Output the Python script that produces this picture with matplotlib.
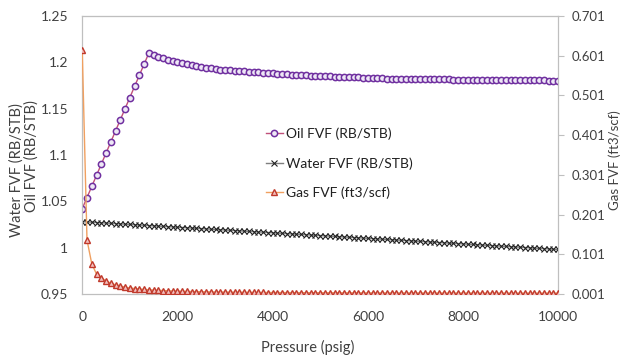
import numpy as np
import matplotlib
matplotlib.use("Agg")
import matplotlib.pyplot as plt

plt.rcParams['font.family'] = ['Lato', 'DejaVu Sans']

# ── Data (100 psi steps) ──
pressure = np.arange(0, 10001, 100)

oil_fvf = [
    1.042, 1.054, 1.066, 1.078, 1.090, 1.102, 1.114, 1.126, 1.138, 1.150,
    1.162, 1.174, 1.186, 1.198, 1.210, 1.208, 1.206, 1.2045, 1.203, 1.2015,
    1.2000, 1.1990, 1.1980, 1.1970, 1.1960, 1.1950, 1.1943, 1.1936, 1.1929, 1.1922,
    1.1915, 1.1912, 1.1908, 1.1905, 1.1901, 1.1898, 1.1894, 1.1891, 1.1888, 1.1884,
    1.1881, 1.1877, 1.1874, 1.1870, 1.1867, 1.1864, 1.1860, 1.1858, 1.1856, 1.1854,
    1.1852, 1.1850, 1.1848, 1.1846, 1.1845, 1.1843, 1.1841, 1.1839, 1.1837, 1.1835,
    1.1833, 1.1831, 1.1829, 1.1827, 1.1825, 1.1823, 1.1822, 1.1820, 1.1819, 1.1819,
    1.1818, 1.1818, 1.1817, 1.1817, 1.1816, 1.1816, 1.1815, 1.1815, 1.1814, 1.1814,
    1.1813, 1.1813, 1.1812, 1.1812, 1.1811, 1.1811, 1.1810, 1.1810, 1.1809, 1.1809,
    1.1808, 1.1808, 1.1807, 1.1807, 1.1806, 1.1806, 1.1805, 1.1804, 1.1803, 1.1802,
    1.1800,
]

water_fvf = [
    1.0280, 1.0277, 1.0274, 1.0271, 1.0268, 1.0265, 1.0262, 1.0259, 1.0256, 1.0253,
    1.0250, 1.0247, 1.0244, 1.0241, 1.0238, 1.0235, 1.0232, 1.0229, 1.0226, 1.0223,
    1.0220, 1.0217, 1.0214, 1.0211, 1.0208, 1.0205, 1.0202, 1.0199, 1.0196, 1.0193,
    1.0190, 1.0187, 1.0184, 1.0181, 1.0178, 1.0175, 1.0172, 1.0169, 1.0166, 1.0163,
    1.0160, 1.0157, 1.0154, 1.0151, 1.0148, 1.0145, 1.0142, 1.0139, 1.0136, 1.0133,
    1.0130, 1.0127, 1.0124, 1.0121, 1.0118, 1.0115, 1.0112, 1.0109, 1.0106, 1.0103,
    1.0100, 1.0097, 1.0094, 1.0091, 1.0088, 1.0085, 1.0082, 1.0079, 1.0076, 1.0073,
    1.0070, 1.0067, 1.0064, 1.0061, 1.0058, 1.0055, 1.0052, 1.0049, 1.0046, 1.0043,
    1.0040, 1.0037, 1.0034, 1.0031, 1.0028, 1.0025, 1.0022, 1.0019, 1.0016, 1.0013,
    1.0010, 1.0007, 1.0004, 1.0001, 0.9998, 0.9995, 0.9992, 0.9989, 0.9986, 0.9983,
    0.9980,
]

gas_fvf = [
    0.615, 0.137, 0.077, 0.051, 0.041, 0.034, 0.028, 0.024, 0.021, 0.018,
    0.0160, 0.0146, 0.0134, 0.0124, 0.0115, 0.0107, 0.0101, 0.0095, 0.0090, 0.0085,
    0.0081, 0.0077, 0.0074, 0.0071, 0.0068, 0.0066, 0.0063, 0.0061, 0.0059, 0.0058,
    0.0056, 0.0055, 0.0053, 0.0052, 0.0051, 0.0050, 0.0049, 0.0048, 0.0047, 0.0046,
    0.0046, 0.0045, 0.0044, 0.0044, 0.0043, 0.0042, 0.0042, 0.0041, 0.0041, 0.0040,
    0.0040, 0.0039, 0.0039, 0.0039, 0.0038, 0.0038, 0.0037, 0.0037, 0.0037, 0.0036,
    0.0036, 0.0036, 0.0035, 0.0035, 0.0035, 0.0035, 0.0034, 0.0034, 0.0034, 0.0034,
    0.0033, 0.0033, 0.0033, 0.0033, 0.0033, 0.0033, 0.0032, 0.0032, 0.0032, 0.0032,
    0.0032, 0.0032, 0.0032, 0.0031, 0.0031, 0.0031, 0.0031, 0.0031, 0.0031, 0.0031,
    0.0031, 0.0030, 0.0030, 0.0030, 0.0030, 0.0030, 0.0030, 0.0030, 0.0030, 0.0030,
    0.0030,
]

left_ticks = [0.95, 1.0, 1.05, 1.1, 1.15, 1.2, 1.25]
left_labels = ["0.95", "1", "1.05", "1.1", "1.15", "1.2", "1.25"]
right_ticks = [0.001, 0.101, 0.201, 0.301, 0.401, 0.501, 0.601, 0.701]
x_ticks = [0, 2000, 4000, 6000, 8000, 10000]

# ── Plot ──
fig = plt.figure(figsize=(6.23, 3.55), dpi=100)
ax = fig.add_axes([0.132, 0.172, 0.764, 0.783])
ax2 = ax.twinx()

l_oil, = ax.plot(pressure, oil_fvf, color="#C0507A", lw=1.0, marker="o", ms=4.5,
                 mfc="#EEE8F6", mec="#7030A0", mew=1.1, label="Oil FVF (RB/STB)", zorder=3)
l_wat, = ax.plot(pressure, water_fvf, color="#7F7F7F", lw=1.0, marker="x", ms=4,
                 mec="#202020", mew=0.8, label="Water FVF (RB/STB)", zorder=3)
l_gas, = ax2.plot(pressure, gas_fvf, color="#F0A060", lw=1.0, marker="^", ms=5,
                  mfc="#F2C0BE", mec="#C0392B", mew=1.0, label="Gas FVF (ft3/scf)", zorder=3)

ax.set_xlim(0, 10000)
ax.set_ylim(0.95, 1.25)
ax2.set_ylim(0.001, 0.701)

ax.set_xticks(x_ticks)
ax.set_yticks(left_ticks)
ax.set_yticklabels(left_labels)
ax2.set_yticks(right_ticks)
ax2.set_yticklabels([f"{v:.3f}" for v in right_ticks])

for a in (ax, ax2):
    for s in a.spines.values():
        s.set_color("#BFBFBF")
        s.set_linewidth(0.8)
    a.tick_params(labelsize=10, colors="#404040")
ax.spines["top"].set_color("#9A9A9A")
ax.tick_params(axis="y", length=0, pad=10)
ax.tick_params(axis="x", length=0, pad=12)
ax2.tick_params(axis="y", length=4, color="#BFBFBF", pad=6, labelsize=9.5)

ax.set_xlabel("Pressure (psig)", fontsize=10.5, color="#404040")
ax.xaxis.set_label_coords(0.473, -0.165)

# two-line left axis title, drawn as two texts like the original
ax.text(-0.137, 0.446, "Water FVF (RB/STB)", transform=ax.transAxes, rotation=90,
        ha="center", va="center", fontsize=10.5, color="#404040")
ax.text(-0.107, 0.496, "Oil FVF (RB/STB)", transform=ax.transAxes, rotation=90,
        ha="center", va="center", fontsize=10.5, color="#404040")
ax2.text(1.118, 0.48, "Gas FVF (ft3/scf)", transform=ax2.transAxes, rotation=90,
         ha="center", va="center", fontsize=9.5, color="#404040")

leg = ax.legend(handles=[l_oil, l_wat, l_gas], loc="center", bbox_to_anchor=(0.54, 0.47),
                frameon=False, fontsize=10, labelspacing=1.2, handlelength=1.2,
                handletextpad=0.2, labelcolor="#202020")

fig.savefig("out.png", dpi=100)
